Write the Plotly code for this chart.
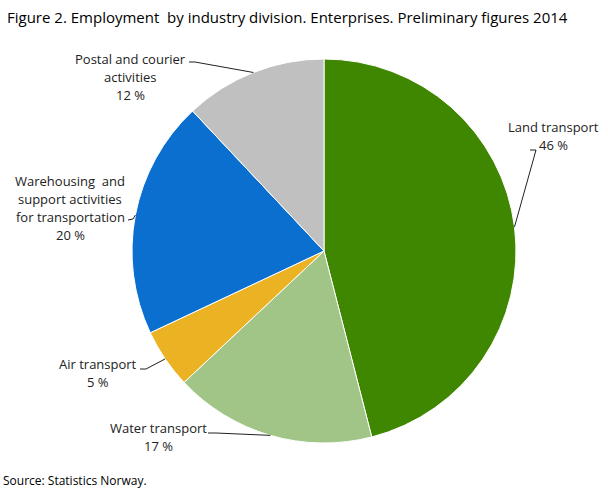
import math
import plotly.graph_objects as go

# employment share by industry division, clockwise from 12 o'clock
divisions = ['Land transport', 'Water transport', 'Air transport',
             'Warehousing and support activities for transportation',
             'Postal and courier activities']
shares = [46, 17, 5, 20, 12]
colors = ['#3f8700', '#a0c587', '#ebb323', '#0b6fd0', '#c0c0c0']

# how each label is broken over lines on the chart
label_lines = [
    ['Land transport'],
    ['Water transport'],
    ['Air transport'],
    ['Warehousing  and', 'support activities', 'for transportation'],
    ['Postal and courier', 'activities'],
]

W, H = 608, 488
cx, cy, r = 324, 251, 192   # pie centre and radius in pixels

# label placement in pixels: text centre x, first line y, connector end, elbow
label_pos = [
    dict(tx=553, ty=127, end=(530, 150), elbow=(536, 150)),
    dict(tx=158, ty=428, end=(208, 433), elbow=(216, 433)),
    dict(tx=98, ty=364, end=(140, 369), elbow=(146, 369)),
    dict(tx=70, ty=181, end=(128, 220), elbow=(133, 219)),
    dict(tx=130, ty=59, end=(189, 62), elbow=(195, 62)),
]
line_step = 18


def px(x):
    return x / W


def py(y):
    return 1 - y / H


fig = go.Figure(go.Pie(
    labels=divisions,
    values=shares,
    sort=False,
    direction='clockwise',
    rotation=0,
    textinfo='none',
    hoverinfo='label+percent',
    marker=dict(colors=colors, line=dict(color='white', width=1)),
    domain=dict(x=[px(cx - r), px(cx + r)], y=[py(cy + r), py(cy - r)]),
    showlegend=False,
))

total = sum(shares)
start = 0
for name, share, lines, pos in zip(divisions, shares, label_lines, label_pos):
    mid = (start + share / 2) / total * 2 * math.pi
    start += share
    edge = (cx + r * math.sin(mid), cy - r * math.cos(mid))
    # connector: pie edge -> elbow -> end
    path = (f'M {px(edge[0])},{py(edge[1])} L {px(pos["elbow"][0])},{py(pos["elbow"][1])} '
            f'L {px(pos["end"][0])},{py(pos["end"][1])}')
    fig.add_shape(type='path', path=path, xref='paper', yref='paper',
                  line=dict(color='#222222', width=1))
    for i, text in enumerate(lines + [f'{share} %']):
        fig.add_annotation(x=px(pos['tx']), y=py(pos['ty'] + i * line_step),
                           xref='paper', yref='paper', text=text, showarrow=False,
                           xanchor='center', yanchor='middle',
                           font=dict(family='Open Sans', size=13, color='#222222'))

fig.add_annotation(x=px(5), y=py(17), xref='paper', yref='paper',
                   text='Figure 2. Employment  by industry division. Enterprises. Preliminary figures 2014',
                   showarrow=False, xanchor='left', yanchor='middle',
                   font=dict(family='Open Sans', size=15, color='#000000'))
fig.add_annotation(x=px(1), y=py(480), xref='paper', yref='paper',
                   text='Source: Statistics Norway.', showarrow=False,
                   xanchor='left', yanchor='middle',
                   font=dict(family='Open Sans', size=12, color='#000000'))

fig.update_layout(width=W, height=H, margin=dict(l=0, r=0, t=0, b=0),
                  paper_bgcolor='white', plot_bgcolor='white')

# drop the page's default body margin so the chart fills the window
fig.write_html('out.html', config={'displayModeBar': False},
               post_script="document.body.style.margin = '0';")
